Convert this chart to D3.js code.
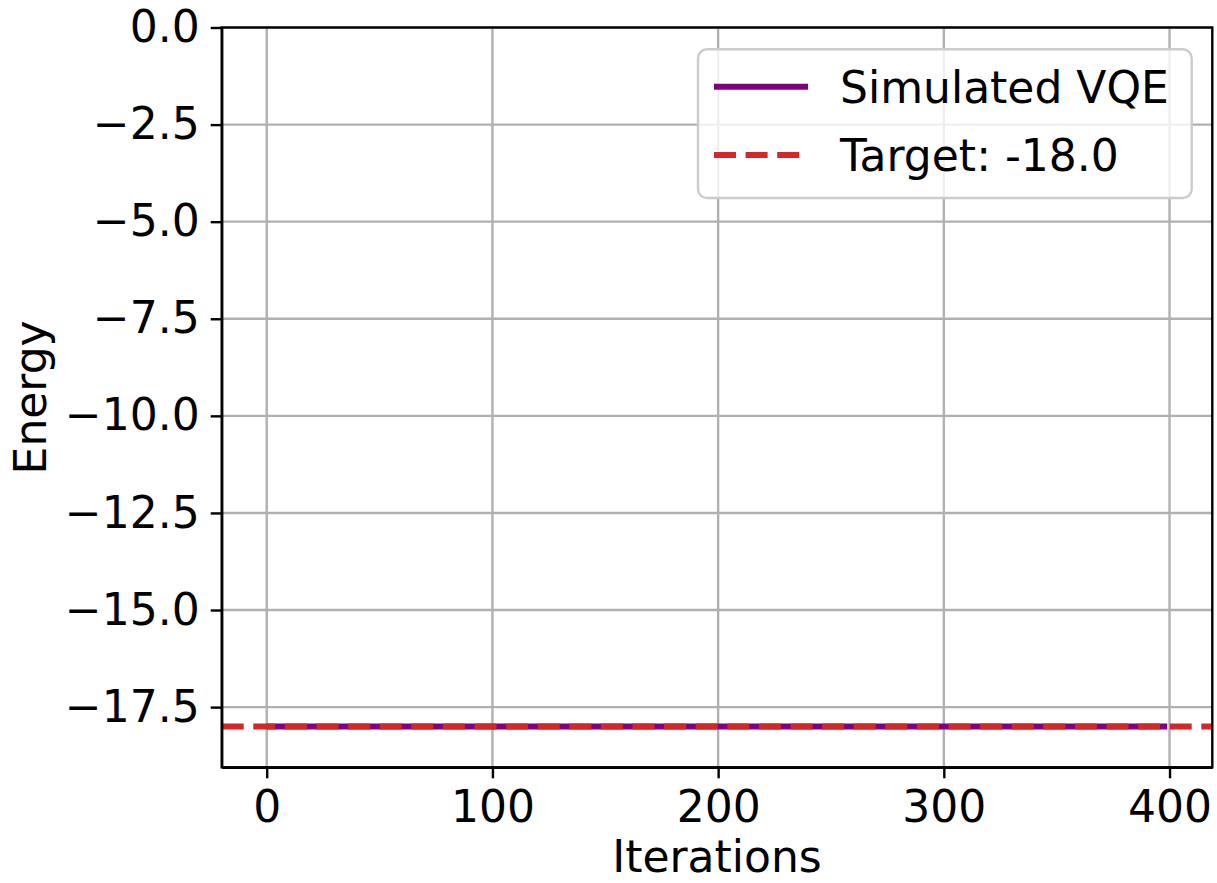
<!DOCTYPE html>
<html>
<head>
<meta charset="utf-8">
<script src="https://cdn.jsdelivr.net/npm/d3@7"></script>
<style>
  body { margin: 0; background: #fff; }
  svg { display: block; font-family: "DejaVu Sans", sans-serif; }
  .grid line { stroke: #b0b0b0; stroke-width: 2.4; }
  .axis path, .axis line { stroke: #000; stroke-width: 2.4; }
  .axis text { font-family: "DejaVu Sans", sans-serif; font-size: 44px; fill: #000; }
</style>
</head>
<body>
<div class="container"></div>
<script>
const WIDTH = 1217,
      HEIGHT = 883;

// data
var iterations = [0, 50, 100, 150, 200, 250, 300, 350, 399];
var energies = [-18.0, -18.0, -18.0, -18.0, -18.0, -18.0, -18.0, -18.0, -18.0];
var target = -18.0;
var xTicks = [0, 100, 200, 300, 400];
var yTicks = [0, -2.5, -5, -7.5, -10, -12.5, -15, -17.5];
var legendLabels = ['Simulated VQE', 'Target: -18.0'];

var margin = {left: 221.7, top: 27.5, right: 1217 - 1212.3, bottom: 883 - 767.3};
var w = WIDTH - margin.left - margin.right,
    h = HEIGHT - margin.top - margin.bottom;

var x = d3.scaleLinear().domain([-19.95, 418.95]).range([0, w]);
var y = d3.scaleLinear().domain([-19.05, 0]).range([h, 0]);

var svg = d3.select('.container').append('svg')
    .attr('width', WIDTH).attr('height', HEIGHT);
var g = svg.append('g').attr('transform', 'translate(' + margin.left + ',' + margin.top + ')');

// grid
var grid = g.append('g').classed('grid', true);
grid.selectAll('.gx').data(xTicks).enter().append('line')
    .attr('x1', d => x(d)).attr('x2', d => x(d)).attr('y1', 0).attr('y2', h);
grid.selectAll('.gy').data(yTicks).enter().append('line')
    .attr('y1', d => y(d)).attr('y2', d => y(d)).attr('x1', 0).attr('x2', w);

// lines
var line = d3.line().x((d, i) => x(iterations[i])).y(d => y(d));
g.append('path').datum(energies)
    .attr('d', line)
    .attr('fill', 'none').attr('stroke', '#800080').attr('stroke-width', 6);

g.append('line')
    .attr('x1', 0).attr('x2', w)
    .attr('y1', y(target)).attr('y2', y(target))
    .attr('stroke', '#d62728').attr('stroke-width', 6)
    .attr('stroke-dasharray', '22,9.6');

// axes
var fmtY = d => d3.format('.1f')(d).replace('-', '\u2212');
g.append('g').classed('axis', true)
    .attr('transform', 'translate(0,' + h + ')')
    .call(d3.axisBottom(x).tickValues(xTicks).tickSize(11).tickPadding(12).tickSizeOuter(0));
g.append('g').classed('axis', true)
    .call(d3.axisLeft(y).tickValues(yTicks).tickFormat(fmtY).tickSize(11).tickPadding(11).tickSizeOuter(0));

// frame
g.append('rect').attr('width', w).attr('height', h)
    .attr('fill', 'none').attr('stroke', '#000').attr('stroke-width', 2.4);

// axis labels
svg.append('text').text('Iterations')
    .attr('x', margin.left + w / 2).attr('y', 872)
    .attr('text-anchor', 'middle').attr('font-size', 44);
svg.append('text').text('Energy')
    .attr('transform', 'translate(46,' + (margin.top + h / 2) + ') rotate(-90)')
    .attr('text-anchor', 'middle').attr('font-size', 44);

// legend
var legend = svg.append('g');
legend.append('rect')
    .attr('x', 698).attr('y', 49.3).attr('width', 493.7).attr('height', 148.7)
    .attr('rx', 9).attr('ry', 9)
    .attr('fill', '#fff').attr('fill-opacity', 0.8)
    .attr('stroke', '#cccccc').attr('stroke-width', 2.4);
var items = legend.selectAll('.item').data(legendLabels).enter().append('g')
    .attr('transform', (d, i) => 'translate(0,' + (86.7 + i * 68.3) + ')');
items.append('line')
    .attr('x1', 714).attr('x2', 808)
    .attr('stroke', (d, i) => i ? '#d62728' : '#800080')
    .attr('stroke-width', 6)
    .attr('stroke-dasharray', (d, i) => i ? '22,9.6' : null);
items.append('text').text(d => d)
    .attr('x', 840).attr('y', 16)
    .attr('font-size', 44).attr('fill', '#000');
</script>
</body>
</html>
